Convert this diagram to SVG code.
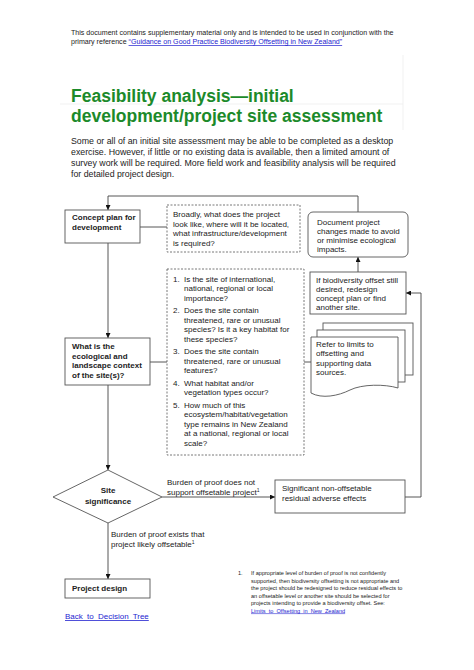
<svg xmlns="http://www.w3.org/2000/svg" width="474" height="670" viewBox="0 0 474 670">
<style>
text{font-family:"Liberation Sans",Arial,sans-serif;fill:#222}
.hdr{font-size:7.1px}
.title{font-size:17.5px;font-weight:bold;fill:#1c8a2a}
.para{font-size:8.8px}
.b{font-size:8px;font-weight:bold}
.t{font-size:8px}
.fn{font-size:5.6px}
.link{fill:#2424d0;text-decoration:underline}
.box{fill:#fff;stroke:#555;stroke-width:0.9}
.dash{fill:#fff;stroke:#555;stroke-width:0.8;stroke-dasharray:2 1.5}
.conn{fill:none;stroke:#444;stroke-width:0.9}
.faint{stroke:#eeeeee;stroke-width:0.8;fill:none}
</style>
<defs>
<marker id="arr" viewBox="0 0 10 10" refX="10" refY="5" markerWidth="5" markerHeight="5" orient="auto" markerUnits="userSpaceOnUse">
<path d="M0,0 L10,5 L0,10 z" fill="#111"/>
</marker>
</defs>
<rect width="474" height="670" fill="#fff"/>

<g id="decor">
<line class="faint" x1="403" y1="55" x2="403" y2="130"/>
<line class="faint" x1="60" y1="104" x2="403" y2="104"/>
</g>

<g id="header">
<text class="hdr" x="71" y="35">This document contains supplementary material only and is intended to be used in conjunction with the</text>
<text class="hdr" x="71" y="44">primary reference <tspan class="link">“Guidance on Good Practice Biodiversity Offsetting in New Zealand”</tspan></text>
<text class="title" x="71" y="102">Feasibility analysis—initial</text>
<text class="title" x="71" y="122">development/project site assessment</text>
<text class="para" x="71" y="144">Some or all of an initial site assessment may be able to be completed as a desktop</text>
<text class="para" x="71" y="155">exercise. However, if little or no existing data is available, then a limited amount of</text>
<text class="para" x="71" y="166">survey work will be required. More field work and feasibility analysis will be required</text>
<text class="para" x="71" y="177">for detailed project design.</text>
</g>

<g id="connectors">
<polyline class="conn" points="358,212 358,196 108,196 108,210" marker-end="url(#arr)"/>
<line class="conn" x1="108" y1="243" x2="108" y2="338" marker-end="url(#arr)"/>
<line class="conn" x1="108" y1="385" x2="108" y2="470" marker-end="url(#arr)"/>
<line class="conn" x1="108" y1="523" x2="108" y2="579" marker-end="url(#arr)"/>
<line class="conn" x1="140" y1="227" x2="167" y2="227"/>
<line class="conn" x1="150" y1="362" x2="167" y2="362"/>
<line class="conn" x1="304" y1="362" x2="311" y2="362"/>
<line class="conn" x1="162" y1="497" x2="275" y2="497" marker-end="url(#arr)"/>
<polyline class="conn" points="405,497 421,497 421,293 406,293" marker-end="url(#arr)"/>
<line class="conn" x1="358" y1="272" x2="358" y2="257" marker-end="url(#arr)"/>
</g>

<g id="concept">
<rect class="box" x="65" y="210" width="75" height="33"/>
<text class="b" x="72" y="220">Concept plan for</text>
<text class="b" x="72" y="230">development</text>
</g>

<g id="broadly">
<rect class="dash" x="167" y="205" width="133" height="47"/>
<text class="t" x="173" y="217">Broadly, what does the project</text>
<text class="t" x="173" y="226.5">look like, where will it be located,</text>
<text class="t" x="173" y="236">what infrastructure/development</text>
<text class="t" x="173" y="245.5">is required?</text>
</g>

<g id="document">
<rect class="box" x="308" y="212" width="100" height="45" rx="5" ry="5"/>
<text class="t" x="317" y="225">Document project</text>
<text class="t" x="317" y="234">changes made to avoid</text>
<text class="t" x="317" y="243">or minimise ecological</text>
<text class="t" x="317" y="252">impacts.</text>
</g>

<g id="redesign">
<rect class="box" x="310" y="272" width="96" height="42"/>
<text class="t" x="316" y="283">If biodiversity offset still</text>
<text class="t" x="316" y="292">desired, redesign</text>
<text class="t" x="316" y="301">concept plan or find</text>
<text class="t" x="316" y="310">another site.</text>
</g>

<g id="context">
<rect class="box" x="65" y="338" width="85" height="47"/>
<text class="b" x="72" y="349">What is the</text>
<text class="b" x="72" y="358.5">ecological and</text>
<text class="b" x="72" y="368">landscape context</text>
<text class="b" x="72" y="377.5">of the site(s)?</text>
</g>

<g id="questions">
<rect class="dash" x="167" y="269" width="137" height="186"/>
<text class="t" x="173" y="281.5">1.</text><text class="t" x="184" y="281.5">Is the site of international,</text>
<text class="t" x="184" y="291">national, regional or local</text>
<text class="t" x="184" y="300.5">importance?</text>
<text class="t" x="173" y="313">2.</text><text class="t" x="184" y="313">Does the site contain</text>
<text class="t" x="184" y="322.5">threatened, rare or unusual</text>
<text class="t" x="184" y="332">species? Is it a key habitat for</text>
<text class="t" x="184" y="341.5">these species?</text>
<text class="t" x="173" y="354">3.</text><text class="t" x="184" y="354">Does the site contain</text>
<text class="t" x="184" y="363.5">threatened, rare or unusual</text>
<text class="t" x="184" y="373">features?</text>
<text class="t" x="173" y="385.5">4.</text><text class="t" x="184" y="385.5">What habitat and/or</text>
<text class="t" x="184" y="395">vegetation types occur?</text>
<text class="t" x="173" y="407.5">5.</text><text class="t" x="184" y="407.5">How much of this</text>
<text class="t" x="184" y="417">ecosystem/habitat/vegetation</text>
<text class="t" x="184" y="426.5">type remains in New Zealand</text>
<text class="t" x="184" y="436">at a national, regional or local</text>
<text class="t" x="184" y="445.5">scale?</text>
</g>

<g id="refer">
<rect class="box" x="323" y="323" width="90" height="52"/>
<rect class="box" x="317" y="330" width="88" height="52"/>
<path class="box" d="M311,337 H398 V388 C385,384 362,384 350,390 C338,396 322,399 311,393 Z"/>
<text class="t" x="316" y="347">Refer to limits to</text>
<text class="t" x="316" y="356.3">offsetting and</text>
<text class="t" x="316" y="365.6">supporting data</text>
<text class="t" x="316" y="375">sources.</text>
</g>

<g id="significance">
<polygon class="box" points="53,497 108,470 162,497 108,523"/>
<text class="b" x="108" y="493" text-anchor="middle">Site</text>
<text class="b" x="108" y="504" text-anchor="middle">significance</text>
</g>

<g id="nonoffsetable">
<rect class="box" x="275" y="480" width="130" height="33"/>
<text class="t" x="282" y="491">Significant non-offsetable</text>
<text class="t" x="282" y="501">residual adverse effects</text>
</g>

<g id="labels">
<text class="t" x="167" y="484.5">Burden of proof does not</text>
<text class="t" x="167" y="494.5">support offsetable project<tspan font-size="5" dy="-3">1</tspan></text>
<text class="t" x="111" y="537">Burden of proof exists that</text>
<text class="t" x="111" y="547">project likely offsetable<tspan font-size="5" dy="-3">1</tspan></text>
</g>

<g id="projectdesign">
<rect class="box" x="65" y="579" width="85" height="19"/>
<text class="b" x="72" y="591">Project design</text>
</g>

<g id="back">
<text class="t link" x="65" y="619" word-spacing="2">Back to Decision Tree</text>
</g>

<g id="footnote">
<text class="fn" x="238" y="575">1.</text>
<text class="fn" x="251" y="575">If appropriate level of burden of proof is not confidently</text>
<text class="fn" x="251" y="582.5">supported, then biodiversity offsetting is not appropriate and</text>
<text class="fn" x="251" y="590">the project should be redesigned to reduce residual effects to</text>
<text class="fn" x="251" y="597.5">an offsetable level or another site should be selected for</text>
<text class="fn" x="251" y="605">projects intending to provide a biodiversity offset. See:</text>
<text class="fn link" x="251" y="612.5" word-spacing="1.5">Limits to Offsetting in New Zealand</text>
</g>
</svg>
